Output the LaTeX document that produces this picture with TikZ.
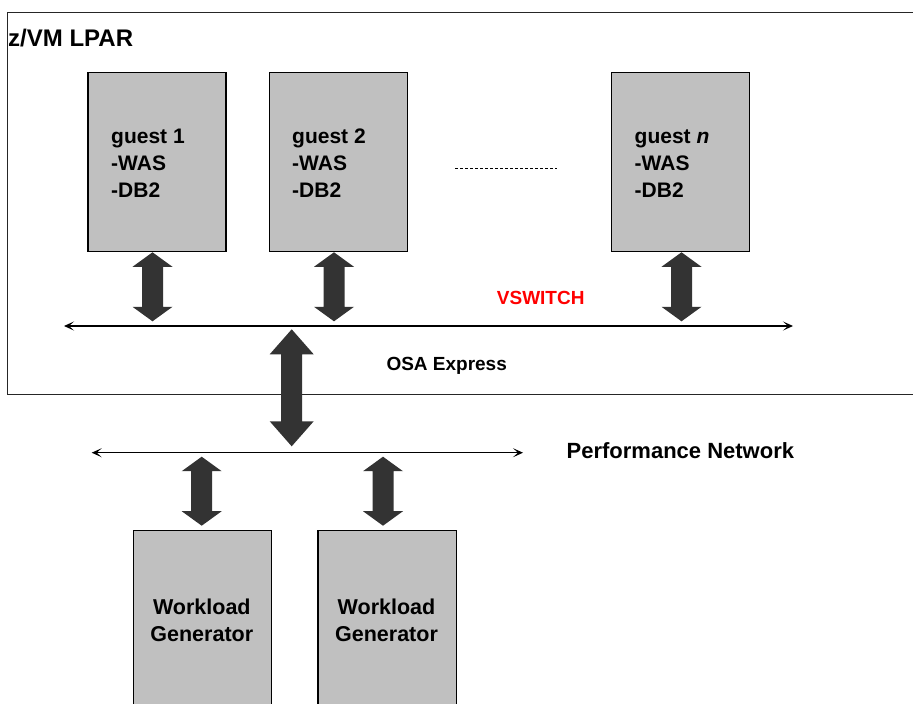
\documentclass[tikz,border=0pt]{standalone}
\usepackage{fontspec}
\setmainfont{Liberation Sans}
\usetikzlibrary{arrows.meta}
\definecolor{boxgray}{HTML}{C0C0C0}
\definecolor{arrowgray}{HTML}{333333}
\definecolor{vsred}{HTML}{FF0000}
\tikzset{
  gbox/.style={draw=black, line width=1.4pt, fill=boxgray, minimum width=138pt, minimum height=179pt, inner sep=0pt, anchor=north west},
  wbox/.style={draw=black, line width=1.4pt, fill=boxgray, minimum width=138.3pt, minimum height=200pt, inner sep=0pt, anchor=north west},
  gtext/.style={font=\bfseries\fontsize{21}{27}\selectfont, align=left, anchor=base west, inner sep=0pt},
  wtext/.style={font=\bfseries\fontsize{21.5}{27}\selectfont, align=center, anchor=base, inner sep=0pt},
  lbl/.style={font=\bfseries\fontsize{19}{23}\selectfont, anchor=base west, inner sep=0pt},
  netline/.style={line width=1.4pt, {Stealth[length=10pt,width=9pt,inset=5pt]}-{Stealth[length=10pt,width=9pt,inset=5pt]}},
  smallarrow/.pic={\fill[arrowgray] (0,0) -- (20,14.5) -- (10.5,14.5) -- (10.5,54.5) -- (20,54.5) -- (0,69) -- (-20,54.5) -- (-10.5,54.5) -- (-10.5,14.5) -- (-20,14.5) -- cycle;},
  bigarrow/.pic={\fill[arrowgray] (0,0) -- (22,25) -- (10.5,25) -- (10.5,92) -- (22,92) -- (0,117) -- (-22,92) -- (-10.5,92) -- (-10.5,25) -- (-22,25) -- cycle;}
}
\begin{document}
\begin{tikzpicture}[x=1pt,y=-1pt]
\useasboundingbox (0,0) rectangle (913,704);
\clip (0,0) rectangle (913,704);
\fill[white] (0,0) rectangle (913,704);
% LPAR
\draw[line width=1pt, draw=black!85] (7.3,12) rectangle (940,394);
\node[font=\bfseries\fontsize{24}{28}\selectfont, anchor=base west, inner sep=0pt] (lpar) at (8,46.7) {z/VM LPAR};
% guests
\node[gbox] (g1) at (87.3,72) {};
\node[gbox] (g2) at (268.5,72) {};
\node[gbox] (gn) at (610.5,72) {};
\node[gtext] (t1) at (111,197.3) {guest 1\\-WAS\\-DB2};
\node[gtext] (t2) at (292,197.3) {guest 2\\-WAS\\-DB2};
\node[gtext] (tn) at (634.5,197.3) {guest \textit{n}\\-WAS\\-DB2};
\draw[line width=1pt, dash pattern=on 3pt off 2pt] (455,168.3) coordinate (d1) -- (557,168.3) coordinate (d2);
% VSWITCH
\coordinate (vsL) at (64,326);
\coordinate (vsR) at (793,326);
\draw[netline] (vsL) -- (vsR);
\node[lbl, text=vsred] (vs) at (496.7,304) {VSWITCH};
\pic (a1) at (152.5,252.3) {smallarrow};
\pic (a2) at (334,252.3) {smallarrow};
\pic (an) at (681.5,252.3) {smallarrow};
% OSA
\pic (osa) at (291.7,329.3) {bigarrow};
\node[lbl] (osat) at (386.3,370.5) {OSA Express};
% Performance network
\coordinate (pnL) at (91.7,452.7);
\coordinate (pnR) at (523,452.7);
\draw[netline] (pnL) -- (pnR);
\node[font=\bfseries\fontsize{22}{26}\selectfont, anchor=base west, inner sep=0pt] (pn) at (566.5,458.3) {Performance Network};
\pic (w1a) at (201.7,456.7) {smallarrow};
\pic (w2a) at (383,456.7) {smallarrow};
% workload generators
\node[wbox] (w1) at (132.7,530) {};
\node[wbox] (w2) at (317.3,530) {};
\node[wtext] (w1t) at (201.8,641.7) {Workload\\Generator};
\node[wtext] (w2t) at (386.5,641.7) {Workload\\Generator};
\end{tikzpicture}
\end{document}
